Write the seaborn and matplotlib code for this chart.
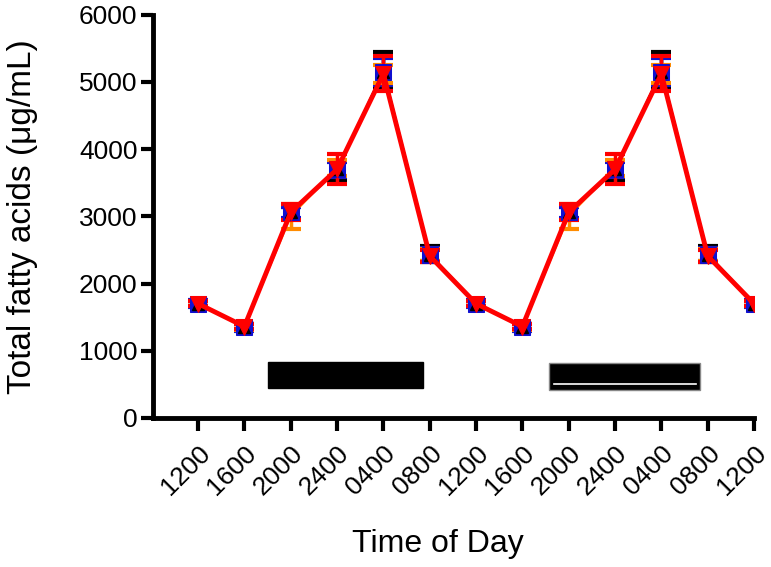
import numpy as np
import matplotlib
matplotlib.use("Agg")
import matplotlib.pyplot as plt
import seaborn as sns
from matplotlib.patches import Rectangle

# time points (two days)
time_labels = ['1200', '1600', '2000', '2400', '0400', '0800', '1200',
               '1600', '2000', '2400', '0400', '0800', '1200']
x_pos = list(range(len(time_labels)))

# series means / SEM (double-plotted data)
black_mean = [1700, 1350, 3050, 3680, 5170, 2440, 1700, 1350, 3050, 3680, 5170, 2440, 1700]
black_err = [40, 40, 90, 140, 280, 120, 40, 40, 90, 140, 280, 120, 40]
blue_mean = [1700, 1350, 3060, 3700, 5150, 2430, 1700, 1350, 3060, 3700, 5150, 2430, 1700]
blue_err = [50, 50, 80, 110, 200, 100, 50, 50, 80, 110, 200, 100, 50]
orange_mean = [1700, 1350, 3000, 3720, 5120, 2420, 1700, 1350, 3000, 3720, 5120, 2420, 1700]
orange_err = [40, 40, 190, 120, 130, 90, 40, 40, 190, 120, 130, 90, 40]
red_mean = [1700, 1360, 3060, 3700, 5120, 2410, 1700, 1360, 3060, 3700, 5120, 2410, 1700]
red_err = [40, 40, 120, 220, 260, 90, 40, 40, 120, 220, 260, 90, 40]

# dark period bars (x start, x end, y bottom, y top)
dark_bars = [(1.52, 4.86, 440, 830), (7.58, 10.84, 420, 820)]

plt.rcParams['font.family'] = ['Liberation Sans', 'DejaVu Sans']
fig, ax = plt.subplots(figsize=(7.71, 5.67), dpi=100)
fig.subplots_adjust(left=0.198, right=0.978, bottom=0.263, top=0.974)

series = [
    (black_mean, black_err, 'black', '^', 1.5),
    (blue_mean, blue_err, '#1010d0', 's', 1.5),
    (orange_mean, orange_err, '#ff8c00', None, 1.5),
    (red_mean, red_err, '#ff0000', 'v', 3.5),
]
for mean, err, col, mk, lw in series:
    ax.errorbar(x_pos, mean, yerr=err, fmt='none', ecolor=col,
                elinewidth=2.5, capsize=7, capthick=3, zorder=3)
    if mk == 's':
        sns.lineplot(x=x_pos, y=mean, color=col, lw=lw, marker=mk,
                     markersize=11, markeredgecolor=col, ax=ax, zorder=4)
        ax.plot(x_pos, mean, ls='none', marker='^', color='black',
                markersize=9, zorder=4)
    elif mk == 'v':
        sns.lineplot(x=x_pos, y=mean, color=col, lw=lw, marker=mk,
                     markersize=12, markeredgecolor=col, ax=ax, zorder=6)
    elif mk == '^':
        sns.lineplot(x=x_pos, y=mean, color=col, lw=lw, marker=mk,
                     markersize=9, markeredgecolor=col, ax=ax, zorder=3)
    else:
        sns.lineplot(x=x_pos, y=mean, color=col, lw=lw, ax=ax, zorder=3)

for i, (x0, x1, y0, y1) in enumerate(dark_bars):
    ax.add_patch(Rectangle((x0, y0), x1 - x0, y1 - y0, facecolor='black',
                           edgecolor='#888888' if i == 1 else 'black', lw=1, zorder=2))
    if i == 1:
        ax.plot([x0 + 0.1, x1 - 0.1], [y0 + 90, y0 + 90], color='white', lw=1.2, zorder=2)

ax.set_xlim(-0.98, 12)
ax.set_ylim(0, 6000)
ax.set_yticks(range(0, 6001, 1000))
ax.set_xticks(x_pos)
ax.set_xticklabels(time_labels, rotation=45, ha='right', rotation_mode='anchor')
ax.tick_params(axis='y', length=9, width=3, labelsize=19, pad=2)
ax.tick_params(axis='x', length=9, width=3, labelsize=19, pad=8)
for s in ['top', 'right']:
    ax.spines[s].set_visible(False)
for s in ['left', 'bottom']:
    ax.spines[s].set_linewidth(3.5)
ax.set_ylabel('Total fatty acids (μg/mL)', fontsize=24)
ax.set_xlabel('Time of Day', fontsize=23)
ax.yaxis.set_label_coords(-0.19, 0.5)
ax.xaxis.set_label_coords(0.474, -0.275)

fig.savefig('out.png', dpi=100)
